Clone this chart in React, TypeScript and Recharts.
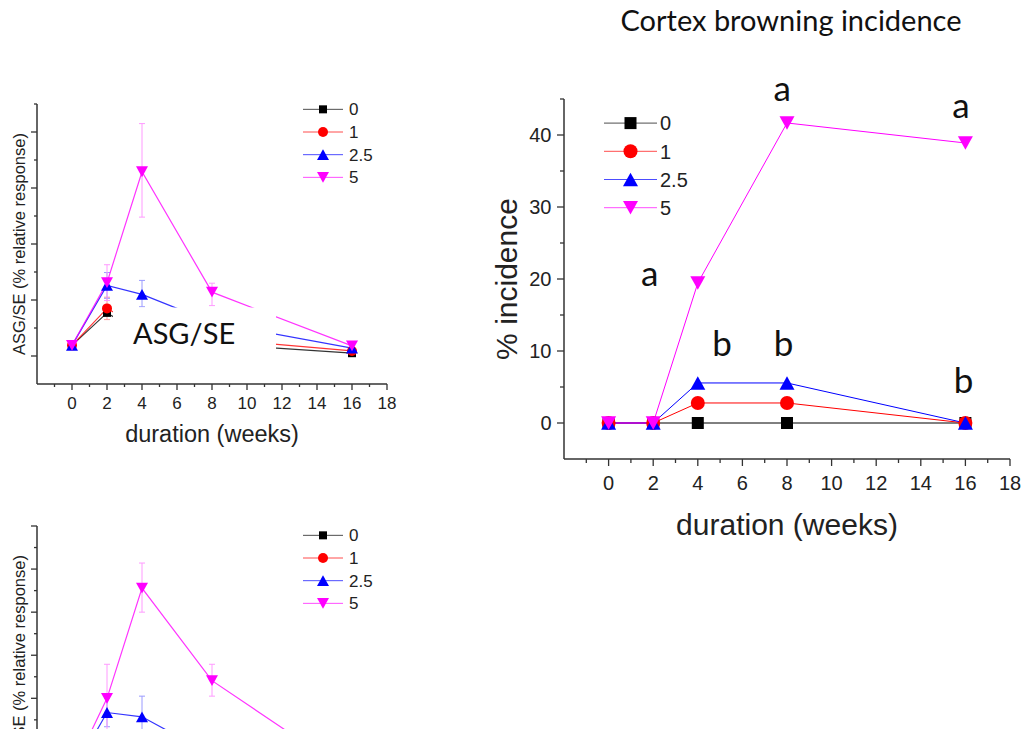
import React from 'react';
import { LineChart, Line, XAxis, YAxis, ErrorBar, Legend, ReferenceDot } from 'recharts';

const weeks = [0, 2, 4, 8, 16];

// top-left panel: ASG/SE (% relative response)
const asg0 = [19, 77, 40, 22, 5];
const asg1 = [19, 85, 50, 31, 9];
const asg25 = [19, 126, 110, 60, 14];
const asg5 = [19, 131, 329, 114, 18];
const asg0Err = [null, 5, null, null, null];
const asg1Err = [null, 20, null, null, null];
const asg25Err = [null, 23, [22, 25], null, null];
const asg5Err = [null, 32, [81, 86], [24, 16], 6];

// bottom-left panel (runs off the page)
const low0 = [22, 60, 45, 30, 10];
const low1 = [24, 70, 55, 35, 12];
const low25 = [25, 167, 157, 69, 20];
const low5 = [30, 200, 456, 241, 22];
const low25Err = [null, 33, [48, 48], null, null];
const low5Err = [null, 79, [56, 58], [36, 38], null];

// right panel: cortex browning incidence (%)
const inc0 = [0, 0, 0, 0, 0];
const inc1 = [0, 0, 2.78, 2.78, 0];
const inc25 = [0, 0, 5.56, 5.56, 0];
const inc5 = [0, 0, 19.44, 41.67, 38.89];

// significance letters
const letters = ['a', 'a', 'a', 'b', 'b', 'b'];
const letterWeek = [1.84, 7.78, 15.8, 5.09, 7.85, 15.92];
const letterPct = [18.97, 44.67, 42.36, 9.35, 9.35, 4.17];

const weekTicks = [-1, 0, 1, 2, 3, 4, 5, 6, 7, 8, 9, 10, 11, 12, 13, 14, 15, 16, 17, 18];
const asgTicks = [0, 50, 100, 150, 200, 250, 300, 350, 400, 450];
const lowTicks = [0, 50, 100, 150, 200, 250, 300, 350, 400, 450, 500, 550, 600];
const incTicks = [0, 5, 10, 15, 20, 25, 30, 35, 40, 45];

const series = [
  { key: 's0', err: 'e0', name: '0', color: '#000000', errColor: '#9a9a9a', shape: 'square' },
  { key: 's1', err: 'e1', name: '1', color: '#ff0000', errColor: '#ff9a9a', shape: 'circle' },
  { key: 's25', err: 'e25', name: '2.5', color: '#0000ff', errColor: '#9a9aff', shape: 'up' },
  { key: 's5', err: 'e5', name: '5', color: '#ff00ff', errColor: '#ff9aff', shape: 'down' },
];

const asgRows = weeks.map((w, i) => ({
  week: w, s0: asg0[i], s1: asg1[i], s25: asg25[i], s5: asg5[i],
  e0: asg0Err[i], e1: asg1Err[i], e25: asg25Err[i], e5: asg5Err[i],
}));
const lowRows = weeks.map((w, i) => ({
  week: w, s0: low0[i], s1: low1[i], s25: low25[i], s5: low5[i],
  e25: low25Err[i], e5: low5Err[i],
}));
const incRows = weeks.map((w, i) => ({ week: w, s0: inc0[i], s1: inc1[i], s25: inc25[i], s5: inc5[i] }));

const AXIS = '#333';
const SANS = '"Liberation Sans", Arial, sans-serif';
const LATO = 'Lato, "Open Sans", sans-serif';

// marker sizes per shape
const smallMarks = { square: 8, circle: 10, up: 12, down: 12 };
const bigMarks = { square: 12, circle: 14, up: 15, down: 15 };

function Marker({ shape, cx, cy, size, color }: any) {
  const h = size / 2;
  if (shape === 'square') return <rect x={cx - h} y={cy - h} width={size} height={size} fill={color} />;
  if (shape === 'circle') return <circle cx={cx} cy={cy} r={h} fill={color} />;
  const t = size * 0.45;
  if (shape === 'up')
    return <polygon points={`${cx},${cy - t} ${cx - h},${cy + t} ${cx + h},${cy + t}`} fill={color} />;
  return <polygon points={`${cx},${cy + t} ${cx - h},${cy - t} ${cx + h},${cy - t}`} fill={color} />;
}

const makeDot = (shape: string, size: number, color: string) => (props: any) => {
  const { cx, cy, index } = props;
  if (cx == null || cy == null) return <g key={index} />;
  return <Marker key={index} shape={shape} cx={cx} cy={cy} size={size} color={color} />;
};

function weekTick(fontSize: number, labelDy: number, majorLen: number, minorLen: number, showLabel = true) {
  return (props: any) => {
    const { x, y, payload } = props;
    const v = payload.value;
    const major = v % 2 === 0;
    return (
      <g>
        <line x1={x} x2={x} y1={y} y2={y + (major ? majorLen : minorLen)} stroke={AXIS} strokeWidth={1.3} />
        {showLabel && major && v >= 0 && (
          <text x={x} y={y + labelDy} textAnchor="middle" fontSize={fontSize} fontFamily={SANS} fill="#222">
            {v}
          </text>
        )}
      </g>
    );
  };
}

function valueTick(majorStep: number, showLabel: boolean, fontSize: number, majorLen: number, minorLen: number) {
  return (props: any) => {
    const { x, y, payload } = props;
    const v = payload.value;
    const major = v % majorStep === 0;
    return (
      <g>
        <line x1={x - (major ? majorLen : minorLen)} x2={x} y1={y} y2={y} stroke={AXIS} strokeWidth={1.3} />
        {showLabel && major && (
          <text x={x - 12.5} y={y + fontSize * 0.36} textAnchor="end" fontSize={fontSize} fontFamily={SANS} fill="#222">
            {v}
          </text>
        )}
      </g>
    );
  };
}

function legendContent(marks: any, fontSize: number, rowH: number, lineLen: number, textX: number) {
  return () => (
    <svg width={textX + 40} height={rowH * 4} style={{ display: 'block' }}>
      {series.map((s, i) => {
        const cy = rowH / 2 + i * rowH;
        return (
          <g key={s.key}>
            <line x1={0} x2={lineLen} y1={cy} y2={cy} stroke={s.color} strokeWidth={1} strokeOpacity={0.7} />
            <Marker shape={s.shape} cx={lineLen / 2} cy={cy} size={marks[s.shape]} color={s.color} />
            <text x={textX} y={cy + fontSize * 0.36} fontSize={fontSize} fontFamily={SANS} fill="#222">
              {s.name}
            </text>
          </g>
        );
      })}
    </svg>
  );
}

const yTitleStyle = (fontSize: number) => ({ textAnchor: 'middle', fontSize, fontFamily: SANS, fill: '#222' });

function ResponsePanel({ rows, domain, ticks, top, legendTop, showBottom }: any) {
  return (
    <div style={{ position: 'absolute', left: 0, top }}>
      <LineChart width={420} height={380} data={rows} margin={{ top: 14, right: 33, left: 0, bottom: 24 }}>
        <XAxis
          type="number"
          dataKey="week"
          domain={[-2, 18]}
          ticks={weekTicks}
          interval={0}
          allowDataOverflow
          tickSize={0}
          tickMargin={0}
          tickLine={false}
          axisLine={{ stroke: AXIS, strokeWidth: 1.5 }}
          tick={weekTick(17, 24.5, 6, 3, showBottom)}
          height={62}
          label={
            showBottom
              ? { value: 'duration (weeks)', position: 'insideBottom', offset: 4, style: { fontSize: 23.5, fontFamily: SANS, fill: '#222' } }
              : undefined
          }
        />
        <YAxis
          type="number"
          domain={domain}
          ticks={ticks}
          interval={0}
          allowDataOverflow
          tickSize={0}
          tickMargin={0}
          tickLine={false}
          axisLine={{ stroke: AXIS, strokeWidth: 1.5 }}
          tick={valueTick(100, false, 16, 6, 3)}
          width={37}
          label={{ value: 'ASG/SE (% relative response)', angle: -90, position: 'insideLeft', offset: 19, style: yTitleStyle(16.5) }}
        />
        <Legend
          layout="vertical"
          align="center"
          verticalAlign="middle"
          wrapperStyle={{ left: 303, top: legendTop }}
          content={legendContent(smallMarks, 17, 22.67, 40, 46)}
        />
        {series.map((s) => (
          <Line
            key={s.key}
            type="linear"
            dataKey={s.key}
            name={s.name}
            stroke={s.color}
            strokeWidth={1.2}
            strokeOpacity={0.8}
            dot={makeDot(s.shape, (smallMarks as any)[s.shape], s.color)}
            activeDot={false}
            isAnimationActive={false}
          >
            <ErrorBar dataKey={s.err} direction="y" width={3} stroke={s.errColor} strokeWidth={1} isAnimationActive={false} />
          </Line>
        ))}
      </LineChart>
    </div>
  );
}

function IncidencePanel() {
  return (
    <div style={{ position: 'absolute', left: 480, top: 60 }}>
      <LineChart width={549} height={500} data={incRows} margin={{ top: 39, right: 19, left: 0, bottom: 21 }}>
        <XAxis
          type="number"
          dataKey="week"
          domain={[-2, 18]}
          ticks={weekTicks}
          interval={0}
          allowDataOverflow
          tickSize={0}
          tickMargin={0}
          tickLine={false}
          axisLine={{ stroke: AXIS, strokeWidth: 1.5 }}
          tick={weekTick(20, 30.5, 7, 4)}
          height={80}
          label={{ value: 'duration (weeks)', position: 'insideBottom', offset: 4, style: { fontSize: 30, fontFamily: SANS, fill: '#222' } }}
        />
        <YAxis
          type="number"
          domain={[-5, 45]}
          ticks={incTicks}
          interval={0}
          allowDataOverflow
          tickSize={0}
          tickMargin={0}
          tickLine={false}
          axisLine={{ stroke: AXIS, strokeWidth: 1.5 }}
          tick={valueTick(10, true, 20, 7, 4)}
          width={84}
          label={{ value: '% incidence', angle: -90, position: 'insideLeft', offset: 26, style: yTitleStyle(30) }}
        />
        <Legend
          layout="vertical"
          align="center"
          verticalAlign="middle"
          wrapperStyle={{ left: 124, top: 49.2 }}
          content={legendContent(bigMarks, 20, 28.2, 53, 56)}
        />
        {series.map((s) => (
          <Line
            key={s.key}
            type="linear"
            dataKey={s.key}
            name={s.name}
            stroke={s.color}
            strokeWidth={1}
            dot={makeDot(s.shape, (bigMarks as any)[s.shape], s.color)}
            activeDot={false}
            isAnimationActive={false}
          />
        ))}
        {letters.map((t, i) => (
          <ReferenceDot
            key={i}
            x={letterWeek[i]}
            y={letterPct[i]}
            r={0}
            ifOverflow="visible"
            shape={(p: any) => (
              <text x={p.cx} y={p.cy} textAnchor="middle" fontSize={35} fontFamily={LATO} fill="#111">
                {t}
              </text>
            )}
          />
        ))}
      </LineChart>
    </div>
  );
}

export default function App() {
  return (
    <div
      style={{
        position: 'absolute',
        left: 0,
        top: 0,
        width: 1029,
        height: 729,
        overflow: 'hidden',
        background: '#fff',
        fontFamily: SANS,
      }}
    >
      <ResponsePanel rows={asgRows} domain={[-50, 450]} ticks={asgTicks} top={90} legendTop={7.7} showBottom />
      <ResponsePanel rows={lowRows} domain={[-50, 600]} ticks={lowTicks} top={512} legendTop={11.5} showBottom={false} />
      <IncidencePanel />
      <svg width={1029} height={729} style={{ position: 'absolute', left: 0, top: 0, pointerEvents: 'none' }}>
        <text x={791} y={31} textAnchor="middle" fontSize={29} fontFamily={LATO} fill="#111">
          Cortex browning incidence
        </text>
        <rect x={113} y={307.5} width={163} height={49} fill="#fff" />
        <text x={133} y={344.3} fontSize={29} fontFamily={LATO} fill="#111">
          ASG/SE
        </text>
      </svg>
    </div>
  );
}
